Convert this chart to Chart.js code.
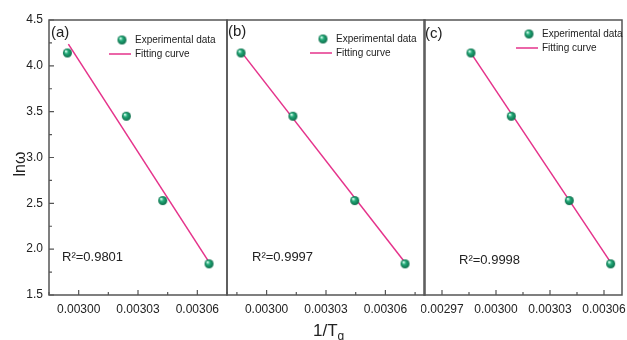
<!DOCTYPE html>
<html>
<head>
<meta charset="utf-8">
<script src="https://cdn.jsdelivr.net/npm/chart.js@4.4.1/dist/chart.umd.min.js"></script>
<style>
  body { margin: 0; background: #fff; }
  #wrap { position: relative; width: 627px; height: 340px; overflow: hidden; font-family: "Liberation Sans", Arial, sans-serif; }
  canvas { position: absolute; top: 0; }
  #xtitle { position: absolute; left: 313px; top: 322px; font-size: 17px; line-height: 17px; color: #222; }
  #xtitle sub { font-size: 12px; }
</style>
</head>
<body>
<div id="wrap">
  <canvas id="panelA" width="230" height="340" style="left:0px"></canvas>
  <canvas id="panelB" width="204" height="340" style="left:224px"></canvas>
  <canvas id="panelC" width="206" height="340" style="left:421px"></canvas>
  <div id="xtitle">1/T<sub>g</sub></div>
</div>
<script>
// ln(omega), same four measurements in every panel
const lnOmega = [4.14, 3.45, 2.53, 1.84];

// 1/Tg per panel
const invTgA = [0.0029943, 0.0030241, 0.0030425, 0.0030659];
const invTgB = [0.0029871, 0.0030133, 0.0030445, 0.0030699];
const invTgC = [0.0029861, 0.0030085, 0.0030407, 0.0030637];

// fitting line end points per panel
const fitXA = [0.0029948, 0.0030655];
const fitYA = [4.236, 1.873];
const fitXB = [0.0029871, 0.0030699];
const fitYB = [4.155, 1.855];
const fitXC = [0.0029861, 0.0030637];
const fitYC = [4.138, 1.855];

// axis limits
const xRangeA = [0.002985, 0.003075];
const xRangeB = [0.00298, 0.00308];
const xRangeC = [0.00296, 0.00307];
const yRange = [1.5, 4.5];
const xTickStep = 0.00003;
const yTickStep = 0.5;

const panelLabels = ['(a)', '(b)', '(c)'];
const r2Labels = ['R²=0.9801', 'R²=0.9997', 'R²=0.9998'];
const legendLabels = ['Experimental data', 'Fitting curve'];
const yTitle = 'lnω';

const PINK = '#e5338b';
const FRAME = '#555';
const TEXT = '#222';
const FONT = '"Liberation Sans", Arial, sans-serif';

// little shaded green ball used as point style
function makeSphere(r) {
    const c = document.createElement('canvas');
    c.width = c.height = r * 2 + 2;
    const g = c.getContext('2d');
    const cx = r + 1, cy = r + 1;
    const grad = g.createRadialGradient(cx - r * 0.35, cy - r * 0.4, r * 0.1, cx, cy, r);
    grad.addColorStop(0, '#d9fff0');
    grad.addColorStop(0.35, '#25ad7b');
    grad.addColorStop(1, '#0a6b48');
    g.fillStyle = grad;
    g.beginPath();
    g.arc(cx, cy, r, 0, Math.PI * 2);
    g.fill();
    return c;
}
const sphere = makeSphere(4.5);

// frame, inward ticks, panel letter, R2 and the in-plot legend
const framePlugin = {
    id: 'frame',
    afterDraw(chart, args, o) {
        const { ctx, chartArea: a, scales: { x, y } } = chart;
        ctx.save();
        ctx.strokeStyle = FRAME;
        ctx.lineWidth = 1.5;
        ctx.strokeRect(a.left, a.top, a.right - a.left, a.bottom - a.top);

        ctx.lineWidth = 1.2;
        ctx.beginPath();
        const xs = xTickStep / 2;
        for (let k = Math.ceil(x.min / xs - 1e-6); k <= Math.floor(x.max / xs + 1e-6); k++) {
            const px = x.getPixelForValue(k * xs);
            const len = k % 2 === 0 ? 5 : 3;
            ctx.moveTo(px, a.bottom);
            ctx.lineTo(px, a.bottom - len);
        }
        if (o.yTicks) {
            const ys = yTickStep / 2;
            for (let k = Math.ceil(y.min / ys - 1e-6); k <= Math.floor(y.max / ys + 1e-6); k++) {
                const py = y.getPixelForValue(k * ys);
                const len = k % 2 === 0 ? 5 : 3;
                ctx.moveTo(a.left, py);
                ctx.lineTo(a.left + len, py);
            }
        }
        ctx.stroke();

        ctx.fillStyle = TEXT;
        ctx.textBaseline = 'middle';
        ctx.font = '15px ' + FONT;
        ctx.fillText(o.label, a.left + o.labelPos[0], a.top + o.labelPos[1]);
        ctx.font = '13px ' + FONT;
        ctx.fillText(o.r2, a.left + o.r2Pos[0], a.top + o.r2Pos[1]);

        // legend
        const mx = a.left + o.legendPos[0], my = a.top + o.legendPos[1];
        ctx.drawImage(sphere, mx - sphere.width / 2, my - sphere.height / 2);
        ctx.font = '10px ' + FONT;
        ctx.fillText(legendLabels[0], mx + 13, my);
        ctx.strokeStyle = PINK;
        ctx.lineWidth = 1.5;
        ctx.beginPath();
        ctx.moveTo(mx - 13, my + 14);
        ctx.lineTo(mx + 9, my + 14);
        ctx.stroke();
        ctx.fillText(legendLabels[1], mx + 13, my + 14);

        // rotated y title on the first panel
        if (o.yTicks) {
            ctx.translate(25, 164);
            ctx.rotate(-Math.PI / 2);
            ctx.textAlign = 'center';
            ctx.textBaseline = 'alphabetic';
            ctx.font = '16px ' + FONT;
            ctx.fillText(yTitle, 0, 0);
        }
        ctx.restore();
    }
};

// major x ticks on whole multiples of the step, not on the axis min
function stepTicks(scale) {
    const out = [];
    for (let k = Math.ceil(scale.min / xTickStep - 1e-6); k <= Math.floor(scale.max / xTickStep + 1e-6); k++) {
        out.push({ value: k * xTickStep });
    }
    scale.ticks = out;
}

function buildPanel(id, xs, fx, fy, xRange, pad, showY, frameOpts) {
    return new Chart(document.getElementById(id), {
        type: 'scatter',
        data: {
            datasets: [
                {
                    label: legendLabels[0],
                    data: xs.map((v, i) => ({ x: v, y: lnOmega[i] })),
                    pointStyle: sphere,
                    pointRadius: 5
                },
                {
                    label: legendLabels[1],
                    data: fx.map((v, i) => ({ x: v, y: fy[i] })),
                    showLine: true,
                    borderColor: PINK,
                    borderWidth: 1.5,
                    pointRadius: 0
                }
            ]
        },
        options: {
            responsive: false,
            animation: false,
            devicePixelRatio: 1,
            layout: { padding: pad, autoPadding: false },
            plugins: {
                legend: { display: false },
                tooltip: { enabled: false },
                frame: frameOpts
            },
            scales: {
                x: {
                    type: 'linear',
                    min: xRange[0],
                    max: xRange[1],
                    grid: { display: false, drawTicks: false },
                    border: { display: false },
                    afterBuildTicks: stepTicks,
                    ticks: {
                        autoSkip: false,
                        maxRotation: 0,
                        padding: 7,
                        color: TEXT,
                        font: { family: FONT, size: 12 },
                        callback: v => v.toFixed(5)
                    },
                    afterFit: s => { s.height = 45; s.paddingLeft = 0; s.paddingRight = 0; }
                },
                y: {
                    display: showY,
                    min: yRange[0],
                    max: yRange[1],
                    grid: { display: false, drawTicks: false },
                    border: { display: false },
                    ticks: {
                        stepSize: yTickStep,
                        padding: 6,
                        color: TEXT,
                        font: { family: FONT, size: 12 },
                        callback: v => v.toFixed(1)
                    },
                    afterFit: s => {
                        if (showY) s.width = 49;
                        s.paddingTop = 0;
                        s.paddingBottom = 0;
                    }
                }
            }
        },
        plugins: [framePlugin]
    });
}

buildPanel('panelA', invTgA, fitXA, fitYA, xRangeA, { top: 20, right: 3, left: 0, bottom: 0 }, true,
    { yTicks: true, label: panelLabels[0], labelPos: [2, 13], r2: r2Labels[0], r2Pos: [13, 237], legendPos: [73, 20] });
buildPanel('panelB', invTgB, fitXB, fitYB, xRangeB, { top: 20, right: 3, left: 3, bottom: 0 }, false,
    { yTicks: false, label: panelLabels[1], labelPos: [1, 12], r2: r2Labels[1], r2Pos: [25, 237], legendPos: [96, 19] });
buildPanel('panelC', invTgC, fitXC, fitYC, xRangeC, { top: 20, right: 5, left: 3, bottom: 0 }, false,
    { yTicks: false, label: panelLabels[2], labelPos: [1, 14], r2: r2Labels[2], r2Pos: [35, 240], legendPos: [105, 14] });
</script>
</body>
</html>
